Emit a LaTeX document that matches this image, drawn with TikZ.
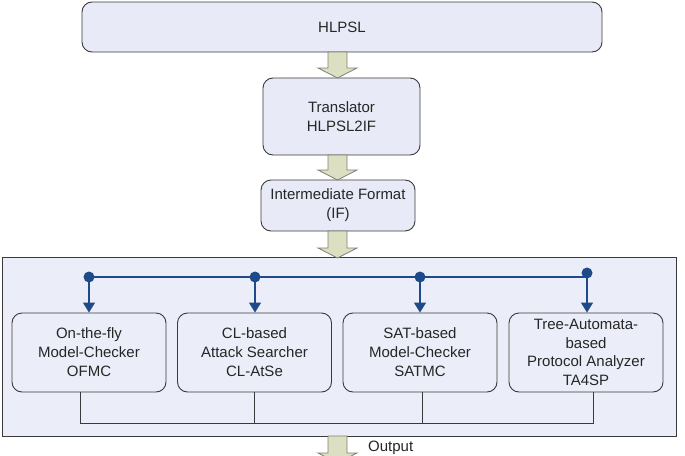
\documentclass[tikz,border=0pt]{standalone}
\usepackage{fontspec}
\setmainfont{Liberation Sans}
\usetikzlibrary{calc,arrows.meta}
\definecolor{boxfill}{HTML}{E8EBF7}
\definecolor{bigfill}{HTML}{EBEEF8}
\definecolor{arrfill}{HTML}{DCDFC2}
\definecolor{arredge}{HTML}{7F7F78}
\definecolor{busblue}{HTML}{1F4A8A}
\definecolor{edgec}{HTML}{3A3A3A}
\newcommand{\blockarrow}[2]{%
  \draw[barrowst] ($(#1)+(-9.5,0)$) -- ($(#2)+(-9.5,-10)$) -- ($(#2)+(-19.5,-10)$) -- (#2)
    -- ($(#2)+(19.5,-10)$) -- ($(#2)+(9.5,-10)$) -- ($(#1)+(9.5,0)$) -- cycle;}
\begin{document}
\begin{tikzpicture}[x=1pt,y=-1pt,
  txt/.style={font=\fontsize{15}{19}\selectfont,text=black!85},
  box/.style={txt,draw=edgec,line width=0.9pt,fill=boxfill,rounded corners=10pt,align=center,inner sep=0pt},
  tool/.style={box,fill=bigfill,minimum width=154pt,minimum height=79pt},
  bigbox/.style={draw=edgec,line width=0.9pt,fill=bigfill,inner sep=0pt},
  barrowst/.style={draw=arredge,line width=0.8pt,fill=arrfill,line join=miter},
  busline/.style={draw=busblue,line width=1.4pt},
  busarrow/.style={busline,-{Triangle[width=12pt,length=10pt]}},
  outline/.style={draw=edgec,line width=0.9pt}]
\useasboundingbox (0,0) rectangle (685,455);

% boxes
\node[box,minimum width=520pt,minimum height=50pt] (hl) at (342,27) {HLPSL};
\node[box,minimum width=157pt,minimum height=77pt] (tr) at (341.5,116.5) {Translator\\HLPSL2IF};
\node[box,minimum width=154pt,minimum height=51pt] (ifb) at (338,205.5) {Intermediate Format\\(IF)};
\node[bigbox,minimum width=674pt,minimum height=179pt] (big) at (339,346.5) {};

\node[tool] (b1) at (89,352.5) {On-the-fly\\Model-Checker\\OFMC};
\node[tool] (b2) at (254.5,352.5) {CL-based\\Attack Searcher\\CL-AtSe};
\node[tool] (b3) at (420,352.5) {SAT-based\\Model-Checker\\SATMC};
\node[tool,font=\fontsize{15}{18.5}\selectfont] (b4) at (586,352.5) {Tree-Automata-\\based\\Protocol Analyzer\\TA4SP};

% block arrows
\coordinate (a1t) at (337.5,52);
\coordinate (a1b) at (337.5,78);
\coordinate (a2t) at (337.5,155);
\coordinate (a2b) at (337.5,180);
\coordinate (a3t) at (337.5,231);
\coordinate (a3b) at (337.5,258);
\coordinate (a4t) at (337.5,436);
\coordinate (a4b) at (337.5,463);
\blockarrow{a1t}{a1b}
\blockarrow{a2t}{a2b}
\blockarrow{a3t}{a3b}
\blockarrow{a4t}{a4b}

% bus
\coordinate (d1) at (89,277);
\coordinate (d2) at (255,277);
\coordinate (d3) at (420,277);
\coordinate (d4) at (587,273);
\draw[busline] (d1) -- (d4 |- d1);
\draw[busline] (d4 |- d1) -- (d4);
\draw[busarrow] (d1) -- (b1.north -| d1);
\draw[busarrow] (d2) -- (b2.north -| d2);
\draw[busarrow] (d3) -- (b3.north -| d3);
\draw[busarrow] (d4) -- (b4.north -| d4);
\foreach \d in {d1,d2,d3,d4} \fill[busblue] (\d) circle (5.5pt);

% collector lines
\coordinate (c1) at ($(b1.south)+(-9,0)$);
\coordinate (c2) at (b2.south);
\coordinate (c3) at ($(b3.south)+(2,0)$);
\coordinate (c4) at ($(b4.south)+(7,0)$);
\draw[outline] (c1) -- ++(0,31) -| (c4);
\draw[outline] (c2) -- ++(0,31);
\draw[outline] (c3) -- ++(0,31);

\node[txt,anchor=base west,inner sep=0pt] (outl) at (368,451) {Output};
\end{tikzpicture}
\end{document}
